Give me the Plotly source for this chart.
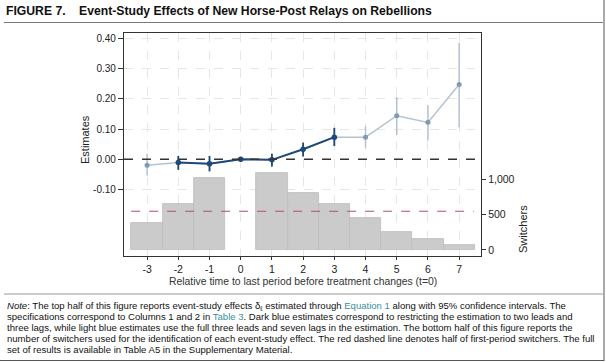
import plotly.graph_objects as go

# ---------------- data ----------------
periods_full = [-3, -2, -1, 0, 1, 2, 3, 4, 5, 6, 7]
est_full = [-0.020, -0.011, -0.015, 0.000, -0.002, 0.033, 0.073, 0.073, 0.144, 0.122, 0.247]
lo_full = [-0.054, -0.035, -0.040, 0.000, -0.024, 0.009, 0.044, 0.038, 0.080, 0.062, 0.106]
hi_full = [0.018, 0.011, 0.011, 0.000, 0.018, 0.055, 0.104, 0.109, 0.206, 0.179, 0.385]

periods_short = [-2, -1, 0, 1, 2, 3]
est_short = [-0.011, -0.015, 0.000, -0.002, 0.033, 0.073]
lo_short = [-0.035, -0.040, 0.000, -0.024, 0.009, 0.044]
hi_short = [0.011, 0.011, 0.000, 0.018, 0.055, 0.104]

switch_periods = [-3, -2, -1, 0, 1, 2, 3, 4, 5, 6, 7]
switchers = [390, 657, 1028, 0, 1100, 814, 647, 461, 257, 157, 71]

est_ticks = [-0.10, 0.00, 0.10, 0.20, 0.30, 0.40]
est_ticklabels = ["-0.10", "0.00", "0.10", "0.20", "0.30", "0.40"]
sw_ticks = [0, 500, 1000]
sw_ticklabels = ["0", "500", "1,000"]
x_ticks = list(range(-3, 8))
x_ticklabels = [str(v) for v in x_ticks]

# ---------------- layout helpers ----------------
W, H = 606, 362
L, R, T, B = 124, 125, 33, 106
PW, PH = W - L - R, H - T - B


def px(x):
    return (x - L) / PW


def py(y):
    return 1 - (y - T) / PH


FONT = "Liberation Sans, Arial, sans-serif"
DARK = "#1f4a78"
LIGHT_LINE = "#b3c3d2"
LIGHT_MK = "#7f9ab2"
TEAL = "#3a8f9e"

fig = go.Figure()

# bars (switchers) on primary axis, drawn below
bar_x = [p for p, s in zip(switch_periods, switchers) if s > 0]
bar_y = [s for s in switchers if s > 0]
fig.add_trace(go.Bar(
    x=bar_x, y=bar_y, width=1.0, yaxis="y",
    marker=dict(color="#cbcbcb", line=dict(color="#bdbdbd", width=0.8)),
    hoverinfo="skip", showlegend=False,
))

# light series (full leads/lags)
fig.add_trace(go.Scatter(
    x=periods_full, y=est_full, yaxis="y2", mode="lines+markers",
    line=dict(color=LIGHT_LINE, width=1.5),
    marker=dict(color=LIGHT_MK, size=5),
    error_y=dict(type="data", symmetric=False,
                 array=[h - e for h, e in zip(hi_full, est_full)],
                 arrayminus=[e - l for e, l in zip(est_full, lo_full)],
                 color=LIGHT_LINE, thickness=1.5, width=0),
    showlegend=False,
))

# dark series (restricted)
fig.add_trace(go.Scatter(
    x=periods_short, y=est_short, yaxis="y2", mode="lines+markers",
    line=dict(color=DARK, width=2),
    marker=dict(color=DARK, size=5.5),
    error_y=dict(type="data", symmetric=False,
                 array=[h - e for h, e in zip(hi_short, est_short)],
                 arrayminus=[e - l for e, l in zip(est_short, lo_short)],
                 color=DARK, thickness=1.8, width=0),
    showlegend=False,
))

half_first = switchers[switch_periods.index(1)] / 2

shapes = [
    # zero line
    dict(type="line", xref="x domain", yref="y2", x0=0, x1=1, y0=0, y1=0,
         line=dict(color="#333333", width=1.6, dash="dash")),
    # half of first-period switchers
    dict(type="line", xref="x domain", yref="y", x0=0.02, x1=0.98,
         y0=half_first, y1=half_first,
         line=dict(color="#b0545e", width=1.1, dash="dash")),
    # title rule
    dict(type="line", xref="paper", yref="paper", x0=px(4), x1=px(603), y0=py(22.5), y1=py(22.5),
         line=dict(color="#7a7a7a", width=1)),
    # note separator
    dict(type="line", xref="paper", yref="paper", x0=px(4), x1=px(603), y0=py(294), y1=py(294),
         line=dict(color="#9a9a9a", width=1)),
    # bottom border
    dict(type="line", xref="paper", yref="paper", x0=px(0), x1=px(604), y0=py(360.5), y1=py(360.5),
         line=dict(color="#555555", width=1)),
    # right border
    dict(type="line", xref="paper", yref="paper", x0=px(604), x1=px(604), y0=py(0), y1=py(361),
         line=dict(color="#555555", width=1)),
]

annotations = [
    dict(text="<b>FIGURE 7.</b>", xref="paper", yref="paper", x=px(4), y=py(10.5),
         xanchor="left", yanchor="middle", showarrow=False,
         font=dict(family=FONT, size=12.2, color="#111111")),
    dict(text="<b>Event-Study Effects of New Horse-Post Relays on Rebellions</b>", xref="paper", yref="paper",
         x=px(77), y=py(10.5), xanchor="left", yanchor="middle", showarrow=False,
         font=dict(family=FONT, size=12.2, color="#111111")),
    dict(text="Estimates", xref="paper", yref="paper", x=px(85), y=py(140), textangle=-90,
         xanchor="center", yanchor="middle", showarrow=False,
         font=dict(family=FONT, size=11, color="#222222")),
    dict(text="Switchers", xref="paper", yref="paper", x=px(523), y=py(229), textangle=-90,
         xanchor="center", yanchor="middle", showarrow=False,
         font=dict(family=FONT, size=11, color="#222222")),
    dict(text="Relative time to last period before treatment changes (t=0)", xref="paper", yref="paper",
         x=px(303), y=py(281), xanchor="center", yanchor="middle", showarrow=False,
         font=dict(family=FONT, size=10.4, color="#333333")),
]

note_lines = [
    "<i>Note</i>: The top half of this figure reports event-study effects δ<sub>ℓ</sub> estimated through "
    f"<span style='color:{TEAL}'>Equation 1</span> along with 95% confidence intervals. The",
    f"specifications correspond to Columns 1 and 2 in <span style='color:{TEAL}'>Table 3</span>. "
    "Dark blue estimates correspond to restricting the estimation to two leads and",
    "three lags, while light blue estimates use the full three leads and seven lags in the estimation. "
    "The bottom half of this figure reports the",
    "number of switchers used for the identification of each event-study effect. "
    "The red dashed line denotes half of first-period switchers. The full",
    "set of results is available in Table A5 in the Supplementary Material.",
]
note_y = [305.5, 316.5, 327.5, 338.5, 349.5]
for txt, yy in zip(note_lines, note_y):
    annotations.append(dict(text=txt, xref="paper", yref="paper", x=px(5), y=py(yy),
                            xanchor="left", yanchor="middle", showarrow=False,
                            font=dict(family=FONT, size=9.55, color="#111111")))

fig.update_layout(
    width=W, height=H,
    margin=dict(l=L, r=R, t=T, b=B, pad=0),
    paper_bgcolor="white", plot_bgcolor="white",
    font=dict(family=FONT, size=10, color="#222222"),
    bargap=0,
    xaxis=dict(range=[-3.74, 7.70], tickmode="array", tickvals=x_ticks, ticktext=x_ticklabels,
               ticks="outside", ticklen=3, tickcolor="#333333",
               showline=True, linecolor="#333333", linewidth=1.2, mirror=True,
               showgrid=True, gridcolor="#e6e6e6", griddash="dash", gridwidth=1,
               zeroline=False, tickfont=dict(size=10.5, color="#222222")),
    yaxis=dict(range=[-86, 3086], side="right", tickmode="array", tickvals=sw_ticks,
               ticktext=sw_ticklabels, ticks="outside", ticklen=4, tickcolor="#333333",
               showline=True, linecolor="#333333", linewidth=1.2,
               showgrid=False, zeroline=False, tickfont=dict(size=10.5, color="#222222")),
    yaxis2=dict(range=[-0.32, 0.4176], side="left", overlaying="y", tickmode="array",
                tickvals=est_ticks, ticktext=est_ticklabels,
                ticks="outside", ticklen=5, tickcolor="#333333",
                showline=True, linecolor="#333333", linewidth=1.2,
                showgrid=True, gridcolor="#e6e6e6", griddash="dash", gridwidth=1,
                zeroline=False, tickfont=dict(size=10, color="#222222")),
    shapes=shapes,
    annotations=annotations,
)

fig.write_html(
    "out.html",
    config={"displayModeBar": False},
    post_script="document.body.style.margin='0';document.body.style.padding='0';"
                "document.body.style.overflow='hidden';",
)
